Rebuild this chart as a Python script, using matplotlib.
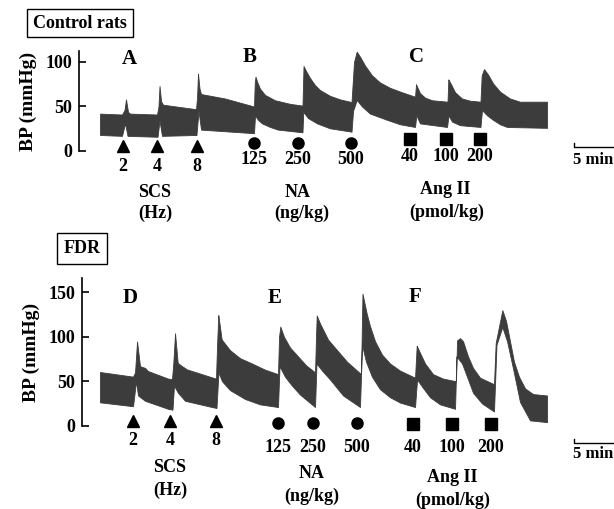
import numpy as np
import matplotlib
matplotlib.use('Agg')
import matplotlib.pyplot as plt

plt.rcParams.update({
    'font.family': ['Liberation Serif', 'DejaVu Serif'],
    'font.weight': 'bold',
    'axes.labelweight': 'bold',
    'font.size': 13,
})

TRACE = '#3c3c3c'

# ── data: BP envelopes (time in min, pressure in mmHg) ───────────────────────
# Control rats
ctl_t_up = [0.0, 2.75, 3.06, 3.25, 3.5, 3.75, 7.13, 7.31, 7.44, 7.63, 7.88,
            12.0, 12.13, 12.25, 12.44, 12.63, 15.63, 19.25, 19.35, 19.44,
            19.63, 20.0, 20.63, 21.88, 23.75, 25.31, 25.44, 25.75, 26.25,
            26.88, 27.5, 28.75, 30.0, 31.44, 31.75, 32.09, 32.5, 33.13, 34.0,
            35.0, 36.25, 37.75, 39.38, 39.5, 40.0, 40.63, 41.5, 43.44, 43.54,
            43.88, 44.38, 45.25, 46.25, 47.56, 47.71, 48.0, 48.5, 49.13, 50.0,
            51.25, 52.5, 55.88]
ctl_up = [42, 41, 46, 58, 44, 42, 41, 50, 73, 56, 52,
          47, 60, 87, 70, 64, 59, 50, 78, 83.5,
          78, 70, 63, 57, 53, 51, 95.5, 90, 82,
          74, 68.5, 62, 58, 55, 100, 111.6, 106, 96, 85,
          77, 71, 66, 61, 75, 65, 60, 57, 55.4, 80.5,
          75, 66, 59, 56.5, 55.4, 85, 92, 86, 76, 66.7,
          59, 55.4, 55.4]
ctl_t_lo = [0.0, 2.75, 3.13, 3.44, 7.19, 7.44, 7.75, 12.06, 12.31, 12.63,
            19.25, 19.38, 19.75, 20.25, 21.25, 22.25, 25.31, 25.41, 26.0,
            27.13, 28.75, 31.44, 31.63, 32.09, 32.75, 33.75, 35.88, 37.5,
            39.38, 39.54, 40.0, 43.38, 43.56, 44.0, 45.0, 47.56, 47.75, 48.38,
            49.13, 50.0, 50.88, 55.88]
ctl_lo = [18, 17, 31, 17, 16, 34, 17, 18, 45, 24,
          20, 40, 35, 31, 27, 24, 21, 44, 37,
          31, 25.5, 21.7, 45, 57.3, 50, 42, 35, 30,
          27, 40, 31, 27, 40, 33, 29, 27, 46, 40,
          35, 30, 27, 26]

# FDR
fdr_t_up = [0.0, 4.13, 4.38, 4.63, 5.0, 5.63, 6.0, 8.5, 9.0, 9.16, 9.38,
            9.71, 10.25, 10.88, 14.13, 14.5, 14.63, 14.79, 15.21, 16.25,
            17.5, 19.0, 20.63, 22.25, 22.38, 22.54, 23.0, 23.75, 24.75, 25.75,
            26.88, 27.0, 27.09, 27.5, 28.5, 29.63, 30.88, 32.63, 32.75, 32.81,
            33.34, 33.75, 34.38, 35.25, 36.25, 37.5, 39.38, 39.59, 40.0, 40.63,
            41.63, 42.88, 44.5, 44.63, 45.0, 45.38, 46.0, 46.63, 47.5, 49.25,
            49.46, 50.29, 50.75, 51.25, 51.75, 52.38, 53.13, 54.13, 55.88]
fdr_up = [60.4, 55.2, 60, 94.8, 67, 65, 61.5, 53, 52.5, 70, 104,
          70.7, 67, 63.3, 54, 53, 90, 124.4, 97, 85,
          76, 70, 63, 58, 100, 111.5, 100, 88, 78, 68,
          60, 100, 124, 115, 97, 85, 72, 58, 120, 148.5,
          126, 112, 95, 80, 70, 62, 54, 90, 82, 70,
          58, 53, 50, 96, 98.5, 95, 78, 65, 54, 46.7,
          93, 130, 118, 95, 72, 55, 42, 35.6, 34]
fdr_t_lo = [0.0, 4.13, 4.5, 4.75, 5.63, 8.5, 9.06, 9.25, 9.75, 10.63,
            14.13, 14.56, 14.81, 15.25, 16.25, 18.13, 20.0, 22.25, 22.44,
            23.13, 24.0, 25.0, 26.88, 27.06, 27.75, 28.75, 30.38, 32.5, 32.75,
            33.25, 34.0, 35.0, 36.25, 37.5, 39.38, 39.63, 40.25, 41.25, 42.5,
            44.38, 44.56, 45.25, 45.88, 46.63, 47.75, 49.25, 49.56, 50.29,
            50.88, 51.66, 52.5, 53.75, 55.88]
fdr_lo = [26.3, 21.9, 50, 34, 28, 19, 18, 45, 37, 28,
          20.7, 20, 60, 50, 40, 30, 24, 21, 67,
          55, 45, 35, 21, 70, 62, 52, 34, 21, 91,
          72, 55, 41, 32, 26, 21, 52, 44, 32, 24,
          19, 78, 70, 55, 37, 25, 16, 91, 111,
          95, 63, 26.7, 6, 4]

# injection times (min) and doses
ctl_scs_t = [2.88, 7.13, 12.13]
ctl_na_t = [19.25, 24.75, 31.38]
ctl_ang_t = [38.75, 43.25, 47.5]
fdr_scs_t = [4.13, 8.75, 14.5]
fdr_na_t = [22.25, 26.63, 32.13]
fdr_ang_t = [39.13, 44.0, 48.88]
scs_doses = ['2', '4', '8']
na_doses = ['125', '250', '500']
ang_doses = ['40', '100', '200']

W, H = 614, 509
fig = plt.figure(figsize=(W / 100, H / 100), dpi=100)


def px_axes(x0, y_top, x1, y_bot):
    return fig.add_axes([x0 / W, 1 - y_bot / H, (x1 - x0) / W, (y_bot - y_top) / H])


def ftext(x, y, s, ha='center', **kw):
    fig.text(x / W, 1 - y / H, s, ha=ha, va='center', **kw)


def style(ax, yticks):
    for s in ['top', 'right', 'bottom']:
        ax.spines[s].set_visible(False)
    ax.spines['left'].set_linewidth(1.2)
    ax.set_xticks([])
    ax.set_yticks(yticks)
    ax.tick_params(axis='y', direction='in', length=5, width=1.2, pad=5, labelsize=13)
    ax.patch.set_alpha(0)


def band(ax, t_up, up, t_lo, lo):
    t = np.union1d(t_up, t_lo)
    ax.fill_between(t, np.interp(t, t_lo, lo), np.interp(t, t_up, up),
                    color=TRACE, lw=0.6, edgecolor=TRACE)


# ── top panel: Control rats ──────────────────────────────────────────────────
ax1 = px_axes(79, 51.3, 614, 151)
band(ax1, ctl_t_up, ctl_up, ctl_t_lo, ctl_lo)
ax1.set_xlim(-2.625, 64.25)
ax1.set_ylim(0, 112)
style(ax1, [0, 50, 100])
ax1.set_ylabel('BP (mmHg)', fontsize=14, labelpad=6)

ax1.plot(ctl_scs_t, [5.6] * 3, '^', ms=8, color='k', clip_on=False)
ax1.plot(ctl_na_t, [9.3] * 3, 'o', ms=8, color='k', clip_on=False)
ax1.plot(ctl_ang_t, [13.0] * 3, 's', ms=8, color='k', clip_on=False)
for t, d in zip(ctl_scs_t, scs_doses):
    ax1.text(t, -17, d, ha='center', va='center')
for t, d in zip(ctl_na_t, na_doses):
    ax1.text(t, -10, d, ha='center', va='center')
for t, d in zip(ctl_ang_t, ang_doses):
    ax1.text(t, -6.5, d, ha='center', va='center')
ax1.plot([59.25, 59.25, 65], [9.3, 4.8, 4.8], color='k', lw=1, clip_on=False)

ftext(155, 192, 'SCS')
ftext(155, 213, '(Hz)')
ftext(298, 192, 'NA')
ftext(302, 213, '(ng/kg)')
ftext(445, 190, 'Ang II')
ftext(447, 212, '(pmol/kg)')
ftext(129, 59, 'A', fontsize=15)
ftext(250, 57, 'B', fontsize=15)
ftext(416, 57, 'C', fontsize=15)
ftext(613, 160, '5 min', ha='right', fontsize=12)
ftext(80, 23, 'Control rats',
      bbox=dict(boxstyle='square,pad=0.32', fc='white', ec='k', lw=1))

# ── bottom panel: FDR ────────────────────────────────────────────────────────
ax2 = px_axes(82, 278.3, 614, 425.7)
band(ax2, fdr_t_up, fdr_up, fdr_t_lo, fdr_lo)
ax2.set_xlim(-2.25, 64.25)
ax2.set_ylim(0, 165.8)
style(ax2, [0, 50, 100, 150])
ax2.set_ylabel('BP (mmHg)', fontsize=14, labelpad=6)

ax2.plot(fdr_scs_t, [5.3] * 3, '^', ms=8, color='k', clip_on=False)
ax2.plot(fdr_na_t, [3.0] * 3, 'o', ms=8, color='k', clip_on=False)
ax2.plot(fdr_ang_t, [1.9] * 3, 's', ms=8, color='k', clip_on=False)
for t, d in zip(fdr_scs_t, scs_doses):
    ax2.text(t, -17, d, ha='center', va='center')
for t, d in zip(fdr_na_t, na_doses):
    ax2.text(t, -24, d, ha='center', va='center')
for t, d in zip(fdr_ang_t, ang_doses):
    ax2.text(t, -25, d, ha='center', va='center')
ax2.plot([59.25, 59.25, 65], [-15, -19.5, -19.5], color='k', lw=1, clip_on=False)

ftext(170, 468, 'SCS')
ftext(170, 490, '(Hz)')
ftext(312, 474, 'NA')
ftext(312, 496, '(ng/kg)')
ftext(452, 478, 'Ang II')
ftext(453, 500, '(pmol/kg)')
ftext(130, 298, 'D', fontsize=15)
ftext(275, 298, 'E', fontsize=15)
ftext(415, 297, 'F', fontsize=15)
ftext(613, 454, '5 min', ha='right', fontsize=12)
ftext(82, 248.5, 'FDR',
      bbox=dict(boxstyle='square,pad=0.38', fc='white', ec='k', lw=1))

fig.savefig('out.png', dpi=100)
